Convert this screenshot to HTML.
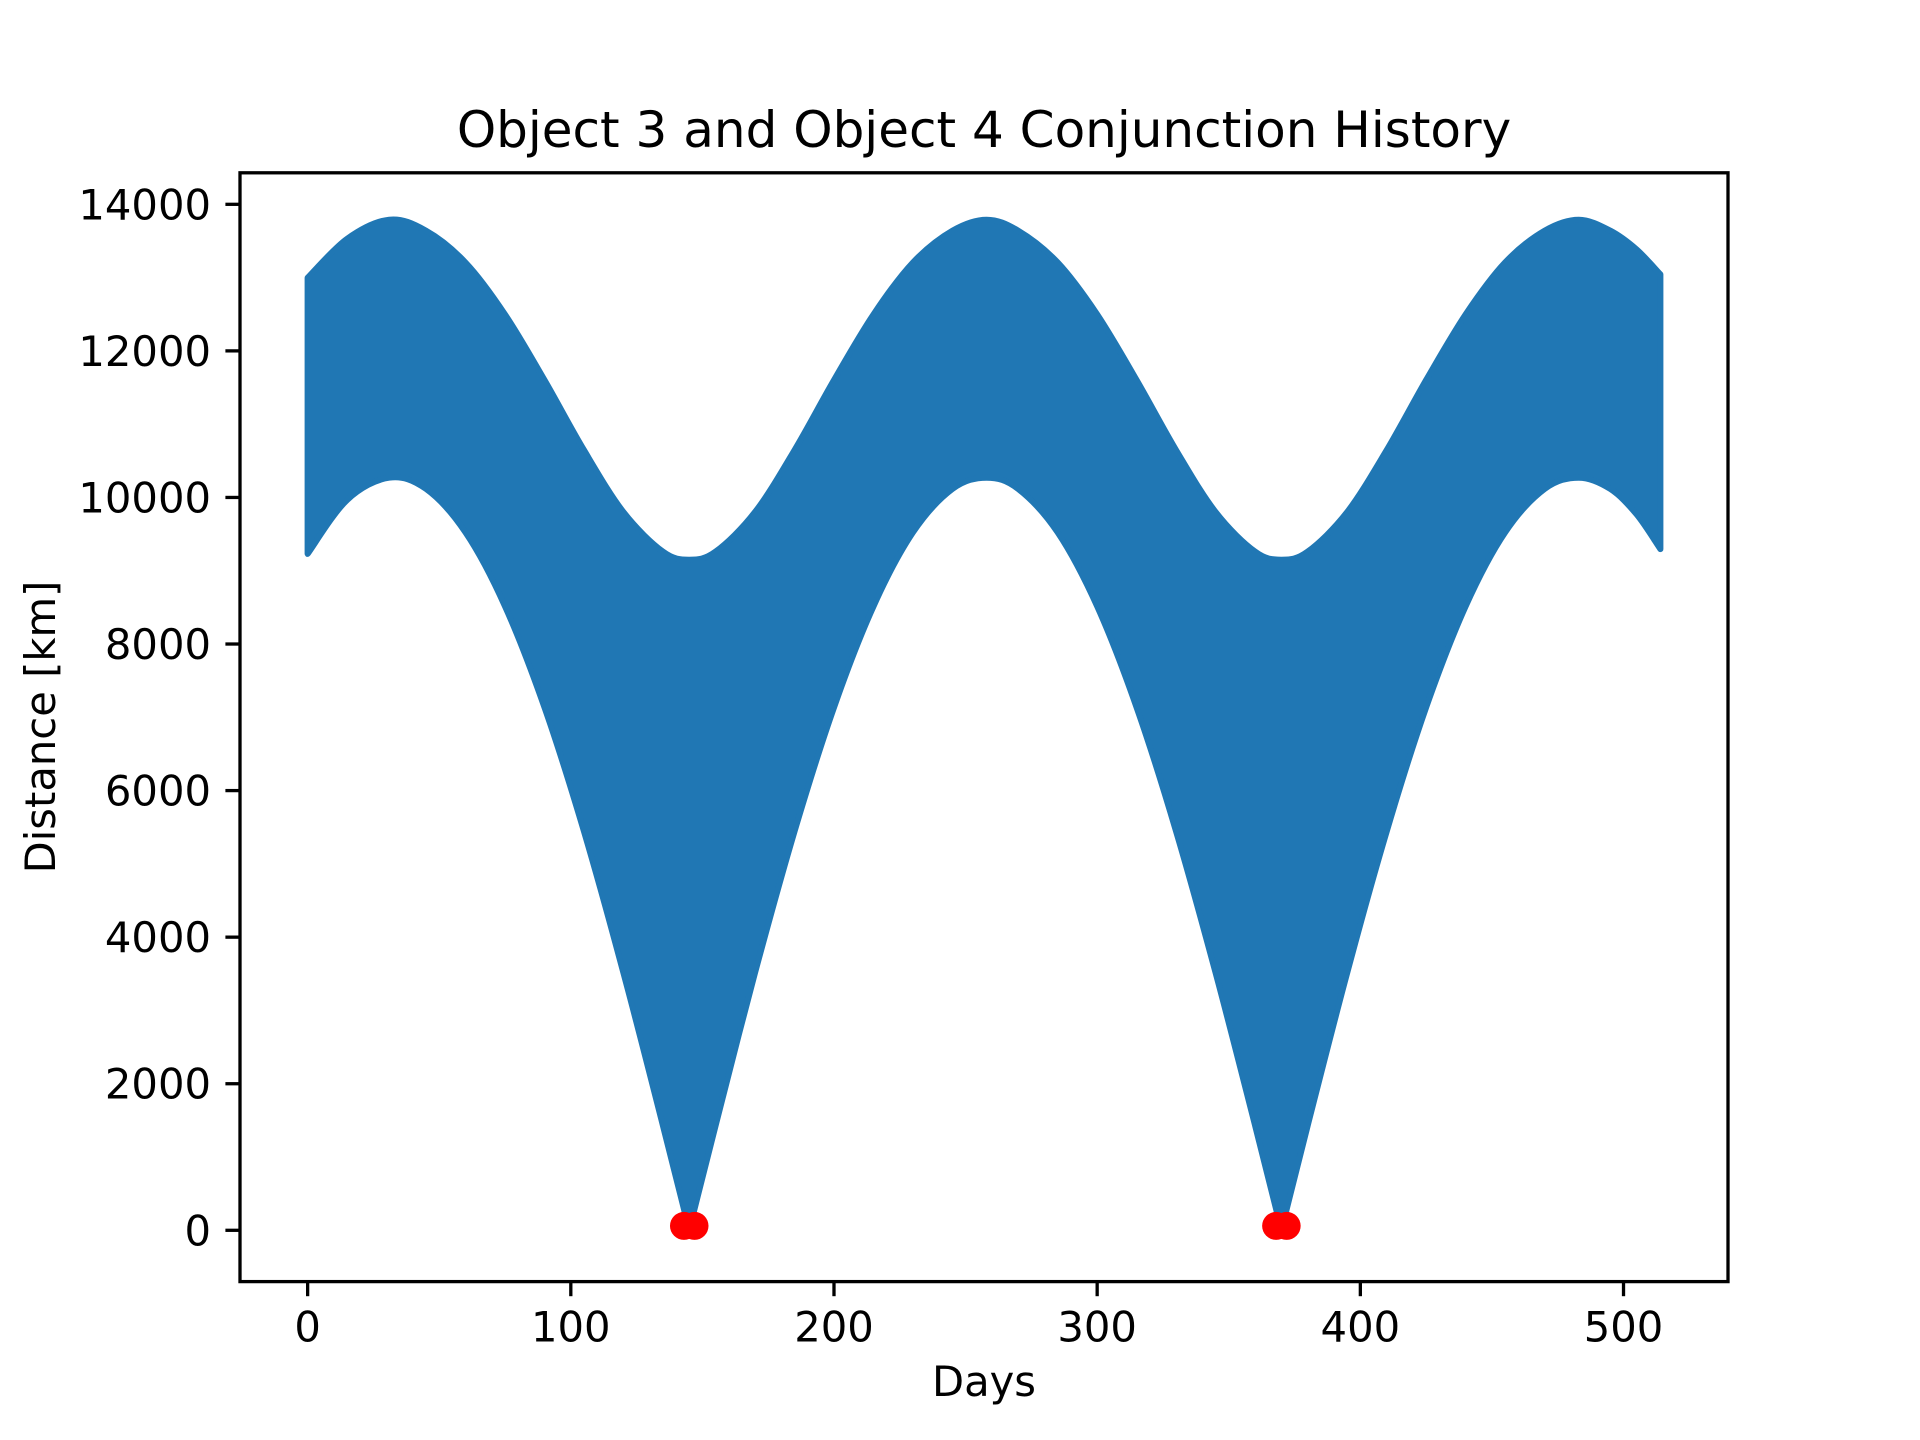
<!DOCTYPE html>
<html><head><meta charset="utf-8">
<style>
html,body{margin:0;padding:0;background:#fff;}
svg{display:block;font-family:"DejaVu Sans","Liberation Sans",sans-serif;}
</style></head>
<body>
<svg id="chart" width="1920" height="1440" viewBox="0 0 1920 1440" xmlns="http://www.w3.org/2000/svg">
<rect width="1920" height="1440" fill="#fff"/>
<text x="984" y="147" font-size="50" text-anchor="middle" fill="#000">Object 3 and Object 4 Conjunction History</text>
<g id="plot"></g>
<rect x="240" y="172.8" width="1488" height="1108.8" fill="none" stroke="#000" stroke-width="3.3"/>
<g id="axes"></g>
<text x="984" y="1396" font-size="41.7" text-anchor="middle">Days</text>
<text transform="translate(55,727) rotate(-90)" font-size="41.7" text-anchor="middle">Distance [km]</text>
</svg>
<script>
const days = [0,15,31,45,60,75,90,105,120,135,145,155,170,185,200,215,230,245,258,270,285,300,315,330,345,360,370,380,395,410,425,440,455,470,483,495,505,514];
const lowerKm = [9230,9965,10270,10115,9522,8514,7134,5442,3512,1429,0,1429,3512,5442,7134,8514,9522,10115,10270,10115,9522,8514,7134,5442,3512,1429,0,1429,3512,5442,7134,8514,9522,10115,10270,10115,9767,9295];
const upperKm = [12997,13529,13790,13640,13206,12498,11602,10646,9801,9261,9150,9261,9801,10646,11602,12498,13206,13640,13790,13640,13206,12498,11602,10646,9801,9261,9150,9261,9801,10646,11602,12498,13206,13640,13790,13640,13383,13043];
const conjDays = [143,147,368,372];
const conjKm = [60,60,60,60];
const xTicks = [0,100,200,300,400,500];
const yTicks = [0,2000,4000,6000,8000,10000,12000,14000];

const NS="http://www.w3.org/2000/svg";
const L=240,R=1728,T=172.8,B=1281.6;
const xMin=-25.7,xMax=539.7,yMin=-700,yMax=14430;
function X(d){return L+(d-xMin)/(xMax-xMin)*(R-L);}
function Y(v){return B-(v-yMin)/(yMax-yMin)*(B-T);}
const plot=document.getElementById('plot');
const axes=document.getElementById('axes');

function smoothPath(pts, zeroFlags, start){
  let s=(start?'M':'L')+pts[0][0].toFixed(1)+','+pts[0][1].toFixed(1);
  for(let i=0;i<pts.length-1;i++){
    const p0=pts[Math.max(0,i-1)],p1=pts[i],p2=pts[i+1],p3=pts[Math.min(pts.length-1,i+2)];
    let c1=[p1[0]+(p2[0]-p0[0])/6,p1[1]+(p2[1]-p0[1])/6];
    let c2=[p2[0]-(p3[0]-p1[0])/6,p2[1]-(p3[1]-p1[1])/6];
    if(zeroFlags[i]) c1=[p1[0]+(p2[0]-p1[0])/3,p1[1]+(p2[1]-p1[1])/3];
    if(zeroFlags[i+1]) c2=[p2[0]-(p2[0]-p1[0])/3,p2[1]-(p2[1]-p1[1])/3];
    s+='C'+c1[0].toFixed(1)+','+c1[1].toFixed(1)+' '+c2[0].toFixed(1)+','+c2[1].toFixed(1)+' '+p2[0].toFixed(1)+','+p2[1].toFixed(1);
  }
  return s;
}
const upPts=days.map((t,i)=>[X(t),Y(upperKm[i])]);
const upZero=days.map(()=>false);
const loPts=days.map((t,i)=>[X(t),Y(lowerKm[i])]).reverse();
const loZero=lowerKm.map(v=>v===0).reverse();
const d=smoothPath(upPts,upZero,true)+smoothPath(loPts,loZero,false)+'Z';

const band=document.createElementNS(NS,'path');
band.setAttribute('d',d);
band.setAttribute('fill','#2077b4');
band.setAttribute('stroke','#2077b4');
band.setAttribute('stroke-width','6');
band.setAttribute('stroke-linejoin','round');


plot.appendChild(band);

conjDays.forEach((t,i)=>{
  const c=document.createElementNS(NS,'circle');
  c.setAttribute('cx',X(t));c.setAttribute('cy',Y(conjKm[i]));
  c.setAttribute('r','14');c.setAttribute('fill','#ff0000');
  
  
  plot.appendChild(c);
});

xTicks.forEach(v=>{
  const x=X(v);
  const ln=document.createElementNS(NS,'line');
  ln.setAttribute('x1',x);ln.setAttribute('x2',x);ln.setAttribute('y1',B);ln.setAttribute('y2',B+14.6);
  ln.setAttribute('stroke','#000');ln.setAttribute('stroke-width','3.3');
  
  
  axes.appendChild(ln);
  const tx=document.createElementNS(NS,'text');
  tx.setAttribute('x',x);tx.setAttribute('y',B+60);
  tx.setAttribute('font-size','41.7');tx.setAttribute('text-anchor','middle');
  tx.textContent=v;
  
  
  axes.appendChild(tx);
});
yTicks.forEach(v=>{
  const y=Y(v);
  const ln=document.createElementNS(NS,'line');
  ln.setAttribute('x1',L-14.6);ln.setAttribute('x2',L);ln.setAttribute('y1',y);ln.setAttribute('y2',y);
  ln.setAttribute('stroke','#000');ln.setAttribute('stroke-width','3.3');
  
  
  axes.appendChild(ln);
  const tx=document.createElementNS(NS,'text');
  tx.setAttribute('x',L-29);tx.setAttribute('y',y+15);
  tx.setAttribute('font-size','41.7');tx.setAttribute('text-anchor','end');
  tx.textContent=v;
  
  
  axes.appendChild(tx);
});
</script>
</body></html>
